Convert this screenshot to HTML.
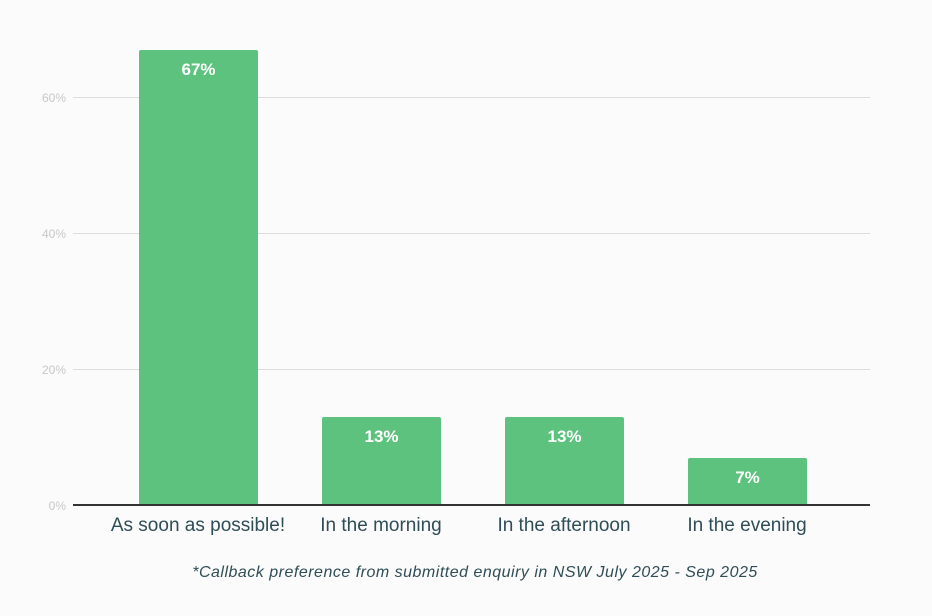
<!DOCTYPE html>
<html><head><style>
html,body{margin:0;padding:0;width:932px;height:616px;overflow:hidden;background:#fbfbfb;font-family:"Liberation Sans",sans-serif;position:relative}
.g{position:absolute;left:73px;width:797px;height:1px;background:#dcdcdc}
.yl{position:absolute;right:866px;font-size:12px;color:#c8c8c8;transform:translateY(-50%)}
.bar{position:absolute;background:#5cc27e;width:119px;border-radius:2px 2px 0 0}
.bv{position:absolute;width:119px;text-align:center;color:#fff;font-weight:bold;font-size:17px}
.xl{position:absolute;top:515px;width:200px;text-align:center;font-size:19px;color:#2f4d56}
</style></head><body>
<div class="g" style="top:97px"></div>
<div class="g" style="top:233px"></div>
<div class="g" style="top:369px"></div>
<div class="yl" style="top:98px">60%</div>
<div class="yl" style="top:234px">40%</div>
<div class="yl" style="top:370px">20%</div>
<div class="yl" style="top:506px">0%</div>
<div class="bar" style="left:139px;top:50px;height:455px"></div>
<div class="bar" style="left:322px;top:417px;height:88px"></div>
<div class="bar" style="left:505px;top:417px;height:88px"></div>
<div class="bar" style="left:688px;top:458px;height:47px"></div>
<div class="bv" style="left:139px;top:60px">67%</div>
<div class="bv" style="left:322px;top:427px">13%</div>
<div class="bv" style="left:505px;top:427px">13%</div>
<div class="bv" style="left:688px;top:468px">7%</div>
<div style="position:absolute;left:73px;top:504px;width:797px;height:2px;background:#333"></div>
<div class="xl" style="left:98px">As soon as possible!</div>
<div class="xl" style="left:281px">In the morning</div>
<div class="xl" style="left:464px">In the afternoon</div>
<div class="xl" style="left:647px">In the evening</div>
<div style="position:absolute;top:564px;left:0;width:950px;text-align:center;font-size:16px;letter-spacing:0.5px;font-style:italic;color:#2f4d56">*Callback preference from submitted enquiry in NSW July 2025 - Sep 2025</div>
</body></html>
